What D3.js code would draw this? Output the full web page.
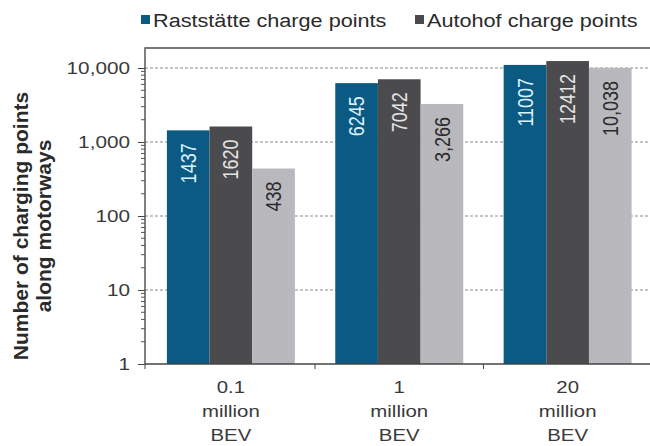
<!DOCTYPE html>
<html>
<head>
<meta charset="utf-8">
<script src="https://cdn.jsdelivr.net/npm/d3@7"></script>
<style>
  html, body { margin: 0; padding: 0; background: #ffffff; }
  svg { display: block; font-family: "Liberation Sans", Arial, sans-serif; }
</style>
</head>
<body>
<script>
// ---- data ----
const categories = ["0.1 million BEV", "1 million BEV", "20 million BEV"];
const seriesKeys = ["rast", "autohof", "third"];
const seriesNames = ["Raststätte charge points", "Autohof charge points"];
const rastValues = [1437, 6245, 11007];
const autohofValues = [1620, 7042, 12412];
const thirdValues = [438, 3266, 10038];
const yTickValues = [1, 10, 100, 1000, 10000];

const seriesValues = { rast: rastValues, autohof: autohofValues, third: thirdValues };
const colors = { rast: "#0b5a83", autohof: "#4b4b4d", third: "#b9b9bd" };
const labelColors = { rast: "#dcf1ff", autohof: "#e4e4e4", third: "#2b2b2b" };
const labelFormats = { rast: d3.format("d"), autohof: d3.format("d"), third: d3.format(",") };

const W = 650, H = 446;
const plotLeft = 145, plotRight = 653.5, plotTop = 48, plotBottom = 364;

const svg = d3.select("body").append("svg").attr("width", W).attr("height", H);

const x = d3.scaleBand().domain(categories).range([plotLeft, plotRight]).paddingInner(0.24).paddingOuter(0.13);
const xs = d3.scaleBand().domain(seriesKeys).range([0, x.bandwidth()]);
const y = d3.scaleLog().domain([1, 10000]).range([plotBottom, 68]);

// gridlines
svg.append("g").selectAll("line")
  .data(yTickValues.filter(d => d > 1))
  .join("line")
  .attr("x1", plotLeft).attr("x2", W)
  .attr("y1", d => y(d)).attr("y2", d => y(d))
  .attr("stroke", "#8a8a8a").attr("stroke-width", 1)
  .attr("stroke-dasharray", "3,2");

// bars
const rows = [];
categories.forEach((c, i) => seriesKeys.forEach(k => rows.push({ c, k, v: seriesValues[k][i] })));

svg.append("g").selectAll("rect")
  .data(rows)
  .join("rect")
  .attr("x", d => x(d.c) + xs(d.k))
  .attr("width", xs.bandwidth())
  .attr("y", d => y(d.v))
  .attr("height", d => plotBottom - y(d.v))
  .attr("fill", d => colors[d.k]);

// bar labels (rotated, inside top)
svg.append("g").selectAll("text")
  .data(rows)
  .join("text")
  .attr("transform", d => `translate(${x(d.c) + xs(d.k) + xs.bandwidth() / 2},${y(d.v) + 13}) scale(1.2,1) rotate(-90)`)
  .attr("text-anchor", "end")
  .attr("dominant-baseline", "central")
  .attr("font-size", 18)
  .attr("fill", d => labelColors[d.k])
  .text(d => labelFormats[d.k](d.v));

// frame: left axis + top border
svg.append("path")
  .attr("d", `M${plotLeft},${plotBottom} V${plotTop} H${W}`)
  .attr("fill", "none").attr("stroke", "#555").attr("stroke-width", 1.5);
svg.append("line")
  .attr("x1", plotLeft).attr("x2", W).attr("y1", plotTop).attr("y2", plotTop)
  .attr("stroke", "#777").attr("stroke-width", 2);

// y axis
const yAxis = d3.axisLeft(y).tickValues(yTickValues).tickFormat(d3.format(",")).tickSize(7).tickSizeOuter(0);
const gy = svg.append("g").attr("transform", `translate(${plotLeft},0)`).call(yAxis);
gy.select(".domain").remove();
gy.selectAll(".tick line").attr("stroke", "#444");
gy.selectAll(".tick text")
  .attr("x", 0)
  .attr("transform", "translate(-15,0) scale(1.22,1)")
  .attr("font-size", 17)
  .attr("fill", "#3a3a3a")
  .attr("font-family", "Liberation Sans, Arial, sans-serif");

// minor ticks
const minor = [];
[1, 10, 100, 1000].forEach(dec => { for (let m = 2; m <= 9; m++) minor.push(dec * m); });
svg.append("g").selectAll("line")
  .data(minor)
  .join("line")
  .attr("x1", plotLeft - 4).attr("x2", plotLeft)
  .attr("y1", d => y(d)).attr("y2", d => y(d))
  .attr("stroke", "#555");

// x axis line and boundary ticks
svg.append("line")
  .attr("x1", plotLeft).attr("x2", W).attr("y1", plotBottom).attr("y2", plotBottom)
  .attr("stroke", "#444").attr("stroke-width", 1.5);
const boundaries = [plotLeft];
for (let i = 0; i < categories.length - 1; i++) {
  boundaries.push((x(categories[i]) + x.bandwidth() + x(categories[i + 1])) / 2);
}
svg.append("g").selectAll("line")
  .data(boundaries)
  .join("line")
  .attr("x1", d => d).attr("x2", d => d)
  .attr("y1", plotBottom).attr("y2", plotBottom + 5)
  .attr("stroke", "#444");

// category labels
const cat = svg.append("g").selectAll("text")
  .data(categories)
  .join("text")
  .attr("transform", d => `translate(${x(d) + x.bandwidth() / 2},0) scale(1.2,1)`)
  .attr("text-anchor", "middle")
  .attr("font-size", 17)
  .attr("fill", "#3a3a3a");
const lineY = [393, 417, 441];
cat.each(function (d) {
  const parts = d.split(" ");
  d3.select(this).selectAll("tspan")
    .data(parts)
    .join("tspan")
    .attr("x", 0)
    .attr("y", (p, i) => lineY[i])
    .text(p => p);
});

// y axis title
const titleLines = ["Number of charging points", "along motorways"];
const titleX = [28, 51];
svg.append("g").selectAll("text")
  .data(titleLines)
  .join("text")
  .attr("transform", (d, i) => `translate(${titleX[i]},226) rotate(-90)`)
  .attr("text-anchor", "middle")
  .attr("font-size", 21)
  .attr("font-weight", "bold")
  .attr("fill", "#2a2a2a")
  .text(d => d);

// legend
const legendX = [141, 415];
const lg = svg.append("g").selectAll("g")
  .data(seriesNames)
  .join("g")
  .attr("transform", (d, i) => `translate(${legendX[i]},0)`);
lg.append("rect")
  .attr("x", 0).attr("y", 15).attr("width", 9).attr("height", 9)
  .attr("fill", (d, i) => colors[seriesKeys[i]]);
lg.append("text")
  .attr("transform", "translate(12,27) scale(1.14,1)")
  .attr("font-size", 19)
  .attr("fill", "#2a2a2a")
  .text(d => d);
</script>
</body>
</html>
